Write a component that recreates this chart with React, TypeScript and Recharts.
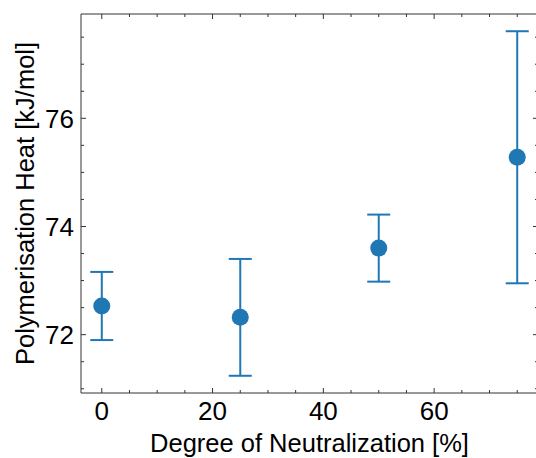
import React from "react";
import { ScatterChart, Scatter, XAxis, YAxis, ErrorBar } from "recharts";

const neutralization = [0, 25, 50, 75];
const heat = [72.53, 72.32, 73.6, 75.28];
const heatErr = [0.63, 1.08, 0.62, 2.33];

const xMajorTicks = [0, 20, 40, 60];
const xMinorTicks = [0, 5, 10, 15, 20, 25, 30, 35, 40, 45, 50, 55, 60, 65, 70, 75];
const yMajorTicks = [72, 74, 76];
const yMinorTicks = [71, 71.5, 72, 72.5, 73, 73.5, 74, 74.5, 75, 75.5, 76, 76.5, 77, 77.5];

const data = neutralization.map((x, i) => ({ x, y: heat[i], err: heatErr[i] }));

const COLOR = "#1f77b4";
const AXIS = "#333";
const FONT = "'Liberation Sans', Arial, Helvetica, sans-serif";
const TICK_FS = 26;
const LABEL_FS = 25.5;
const MAJOR = 5;
const MINOR = 3;

const xLo = -3.75;
const xHi = 78.75;
const yMinData = Math.min(...data.map((d) => d.y - d.err));
const yMaxData = Math.max(...data.map((d) => d.y + d.err));
const yPad = (yMaxData - yMinData) * 0.05;
const yLo = yMinData - yPad;
const yHi = yMaxData + yPad;

const BottomTick = (props: any) => {
  const { x, y, payload } = props;
  const major = xMajorTicks.includes(payload.value);
  return (
    <g>
      <line x1={x} x2={x} y1={y} y2={y - (major ? MAJOR : MINOR)} stroke={AXIS} strokeWidth={1} />
      {major && (
        <text x={x} y={y + 27} textAnchor="middle" fontSize={TICK_FS} fontFamily={FONT} fill="#000">
          {payload.value}
        </text>
      )}
    </g>
  );
};

const TopTick = (props: any) => {
  const { x, y, payload } = props;
  const major = xMajorTicks.includes(payload.value);
  return <line x1={x} x2={x} y1={y} y2={y + (major ? MAJOR : MINOR)} stroke={AXIS} strokeWidth={1} />;
};

const LeftTick = (props: any) => {
  const { x, y, payload } = props;
  const major = yMajorTicks.includes(payload.value);
  return (
    <g>
      <line x1={x} x2={x + (major ? MAJOR : MINOR)} y1={y} y2={y} stroke={AXIS} strokeWidth={1} />
      {major && (
        <text x={x - 7} y={y + 9.3} textAnchor="end" fontSize={TICK_FS} fontFamily={FONT} fill="#000">
          {payload.value}
        </text>
      )}
    </g>
  );
};

const RightTick = (props: any) => {
  const { x, y, payload } = props;
  const major = yMajorTicks.includes(payload.value);
  return <line x1={x} x2={x - (major ? MAJOR : MINOR)} y1={y} y2={y} stroke={AXIS} strokeWidth={1} />;
};

const YLabel = (props: any) => {
  const vb = props.viewBox || { x: 0, y: 14, width: 81, height: 379 };
  const cx = vb.x + 25;
  const cy = vb.y + vb.height / 2;
  return (
    <text
      x={cx}
      y={cy}
      transform={`rotate(-90 ${cx} ${cy})`}
      textAnchor="middle"
      dominantBaseline="central"
      fontSize={LABEL_FS}
      fontFamily={FONT}
      fill="#000"
    >
      Polymerisation Heat [kJ/mol]
    </text>
  );
};

const XLabel = (props: any) => {
  const vb = props.viewBox || { x: 81, y: 393, width: 457, height: 65 };
  const cx = vb.x + vb.width / 2;
  return (
    <text x={cx} y={vb.y + 59} textAnchor="middle" fontSize={LABEL_FS} fontFamily={FONT} fill="#000">
      Degree of Neutralization [%]
    </text>
  );
};

const Dot = (props: any) => {
  const { cx, cy } = props;
  return <circle cx={cx} cy={cy} r={8.5} fill={COLOR} />;
};

const NoDot = () => <g />;

export default function App() {
  return (
    <div style={{ position: "absolute", left: 0, top: 0, width: 536, height: 458, overflow: "hidden", background: "#fff" }}>
      <ScatterChart width={545} height={458} margin={{ top: 13, right: 6, bottom: 0, left: 0 }}>
        <XAxis
          xAxisId="b"
          dataKey="x"
          type="number"
          orientation="bottom"
          domain={[xLo, xHi]}
          allowDataOverflow
          ticks={xMinorTicks}
          interval={0}
          tick={<BottomTick />}
          tickLine={false}
          tickSize={0}
          tickMargin={0}
          axisLine={{ stroke: AXIS, strokeWidth: 1 }}
          height={65}
          label={<XLabel />}
        />
        <XAxis
          xAxisId="t"
          dataKey="x"
          type="number"
          orientation="top"
          domain={[xLo, xHi]}
          allowDataOverflow
          ticks={xMinorTicks}
          interval={0}
          tick={<TopTick />}
          tickLine={false}
          tickSize={0}
          tickMargin={0}
          axisLine={{ stroke: AXIS, strokeWidth: 1 }}
          height={1}
        />
        <YAxis
          yAxisId="l"
          dataKey="y"
          type="number"
          orientation="left"
          domain={[yLo, yHi]}
          allowDataOverflow
          ticks={yMinorTicks}
          interval={0}
          tick={<LeftTick />}
          tickLine={false}
          tickSize={0}
          tickMargin={0}
          axisLine={{ stroke: AXIS, strokeWidth: 1 }}
          width={81}
          label={<YLabel />}
        />
        <YAxis
          yAxisId="r"
          dataKey="y"
          type="number"
          orientation="right"
          domain={[yLo, yHi]}
          allowDataOverflow
          ticks={yMinorTicks}
          interval={0}
          tick={<RightTick />}
          tickLine={false}
          tickSize={0}
          tickMargin={0}
          axisLine={{ stroke: AXIS, strokeWidth: 1 }}
          width={1}
        />
        <Scatter data={data} xAxisId="t" yAxisId="r" shape={<NoDot />} isAnimationActive={false} legendType="none" />
        <Scatter data={data} xAxisId="b" yAxisId="l" fill={COLOR} shape={<Dot />} isAnimationActive={false}>
          <ErrorBar dataKey="err" direction="y" width={11.5} stroke={COLOR} strokeWidth={2} isAnimationActive={false} />
        </Scatter>
      </ScatterChart>
    </div>
  );
}
